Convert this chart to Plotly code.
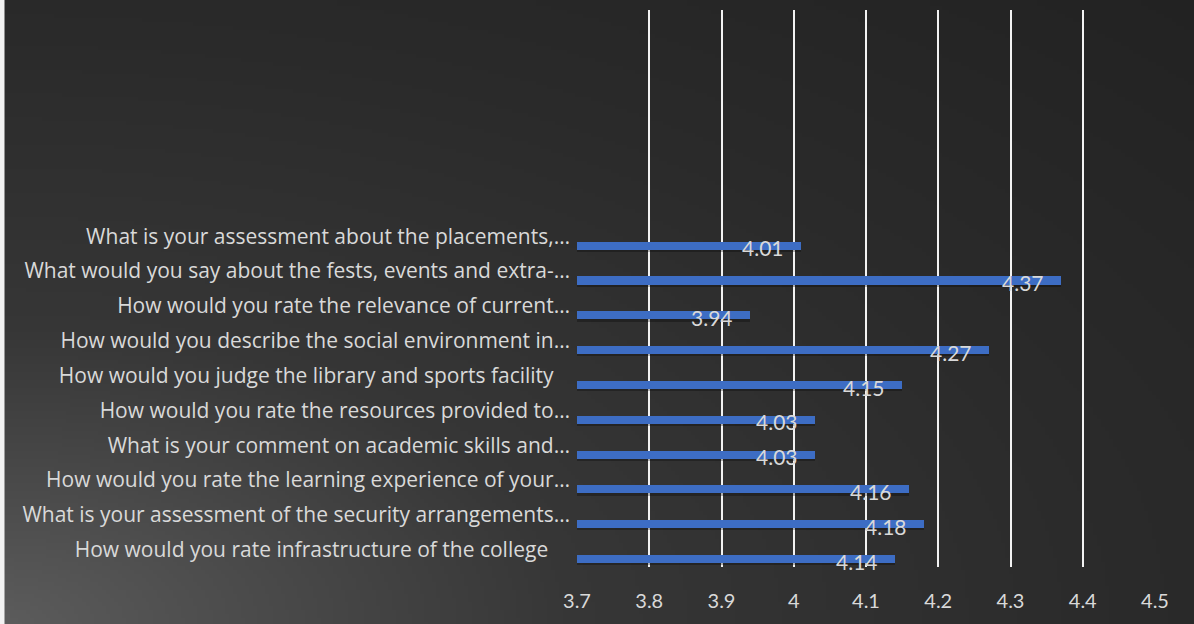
import base64
import struct
import zlib
import math
import plotly.graph_objects as go

# ---------------- data ----------------
questions = [
    "How would you rate infrastructure of the college\u00a0\u00a0\u00a0\u00a0",
    "What is your assessment of the security arrangements…",
    "How would you rate the learning experience of your…",
    "What is your comment on academic skills and…",
    "How would you rate the resources provided to…",
    "How would you judge the library and sports facility\u00a0\u00a0\u00a0",
    "How would you describe the social environment in…",
    "How would you rate the relevance of current…",
    "What would you say about the fests, events and extra-…",
    "What is your assessment about the placements,…",
]
scores = [4.14, 4.18, 4.16, 4.03, 4.03, 4.15, 4.27, 3.94, 4.37, 4.01]
x_ticks = [3.7, 3.8, 3.9, 4.0, 4.1, 4.2, 4.3, 4.4, 4.5]
x_tick_text = ["3.7", "3.8", "3.9", "4", "4.1", "4.2", "4.3", "4.4", "4.5"]

# ---------------- layout geometry ----------------
W, H = 1194, 624
ML, MR, MT, MB = 577, 39, 10, 57
PW, PH = W - ML - MR, H - MT - MB
n_slots = 16

# ---------------- background gradient (style only) ----------------
def gradient_png(w, h):
    stops = [(0.0, 92), (0.224, 74), (0.48, 54), (0.95, 42), (1.41, 34)]
    def f(d):
        for (d0, c0), (d1, c1) in zip(stops, stops[1:]):
            if d <= d1:
                t = (d - d0) / (d1 - d0)
                return c0 + (c1 - c0) * t
        return stops[-1][1]
    raw = b""
    for yy in range(h):
        row = bytearray([0])
        v = 1 - (yy + 0.5) / h
        for xx in range(w):
            u = (xx + 0.5) / w
            row.append(int(round(f(math.hypot(u, v)))))
        raw += bytes(row)
    def chunk(t, d):
        c = struct.pack(">I", len(d)) + t + d
        return c + struct.pack(">I", zlib.crc32(t + d) & 0xffffffff)
    png = b"\x89PNG\r\n\x1a\n"
    png += chunk(b"IHDR", struct.pack(">IIBBBBB", w, h, 8, 0, 0, 0, 0))
    png += chunk(b"IDAT", zlib.compress(raw, 9))
    png += chunk(b"IEND", b"")
    return "data:image/png;base64," + base64.b64encode(png).decode()

bg = gradient_png(300, 157)

FONT = "Lato"
CAT_FONT = "Open Sans"
TXT = "#d9d9d9"
ypos = list(range(len(questions)))

fig = go.Figure()
# soft bar shadow
fig.add_trace(go.Bar(
    x=[s - 3.7 for s in scores], base=3.7, y=ypos, orientation="h",
    offset=-0.45, width=0.25,
    marker=dict(color="rgba(0,0,0,0.28)", line=dict(width=0)),
    hoverinfo="skip", showlegend=False,
))
fig.add_trace(go.Bar(
    x=[s - 3.7 for s in scores], base=3.7, y=ypos, orientation="h",
    offset=-0.385, width=0.23,
    marker=dict(color="#3d6dc4", line=dict(width=0)),
    showlegend=False,
))

for i, s in enumerate(scores):
    fig.add_annotation(
        x=s, y=i - 0.33, xref="x", yref="y", text=f"{s:g}",
        showarrow=False, xanchor="right", yanchor="middle", xshift=-15,
        font=dict(family=FONT, size=21, color=TXT),
    )

fig.add_layout_image(dict(
    source=bg, xref="paper", yref="paper",
    x=-ML / PW, y=1 + MT / PH, sizex=W / PW, sizey=H / PH,
    xanchor="left", yanchor="top", sizing="stretch", layer="below",
))
# thin light strip at the left edge of the picture
fig.add_shape(type="rect", xref="paper", yref="paper",
              x0=-ML / PW, x1=(4.5 - ML) / PW, y0=-MB / PH, y1=1 + MT / PH,
              fillcolor="#f2f2f2", line=dict(width=0), layer="above")

fig.update_layout(
    width=W, height=H,
    margin=dict(l=ML, r=MR, t=MT, b=MB, pad=0),
    paper_bgcolor="#262626", plot_bgcolor="rgba(0,0,0,0)",
    bargap=0, barmode="overlay",
    font=dict(family=FONT, color=TXT),
    xaxis=dict(
        range=[3.7, 4.5], tickvals=x_ticks, ticktext=x_tick_text,
        showgrid=False, zeroline=False, showline=False,
        ticks="", ticklabelstandoff=20,
        tickfont=dict(family=FONT, size=20, color=TXT),
        minor=dict(tickvals=x_ticks[1:], showgrid=True,
                   gridcolor="#f2f2f2", gridwidth=2, ticks=""),
    ),
    yaxis=dict(
        range=[-0.5, n_slots - 0.5], tickvals=ypos, ticktext=questions,
        showgrid=False, zeroline=False, showline=False, ticks="",
        ticklabelstandoff=6,
        tickfont=dict(family=CAT_FONT, size=21, color=TXT),
    ),
)

fig.write_html(
    "out.html",
    config={"displayModeBar": False},
    post_script="document.body.style.margin='0';document.body.style.overflow='hidden';",
)
